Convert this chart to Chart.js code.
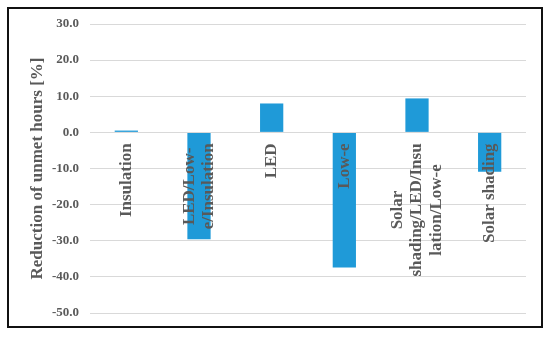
<!DOCTYPE html>
<html>
<head>
<meta charset="utf-8">
<script src="https://cdn.jsdelivr.net/npm/chart.js@4"></script>
<style>
  body { margin: 0; background: #fff; }
  #wrap { position: relative; width: 550px; height: 337px; }
  #frame { position: absolute; left: 7px; top: 7px; width: 532px; height: 317px; border: 2px solid #111; pointer-events: none; }
</style>
</head>
<body>
<div id="wrap">
  <canvas id="myChart" width="550" height="337"></canvas>
  <div id="frame"></div>
</div>
<script>
const categories = ['Insulation', 'LED/Low-e/Insulation', 'LED', 'Low-e', 'Solar shading/LED/Insulation/Low-e', 'Solar shading'];
// how each category name wraps in the picture
const labelLines = [
    ['Insulation'],
    ['LED/Low-', 'e/Insulation'],
    ['LED'],
    ['Low-e'],
    ['Solar', 'shading/LED/Insu', 'lation/Low-e'],
    ['Solar shading']
];
const reduction = [0.5, -29.6, 8.0, -37.4, 9.4, -10.9];
const yMin = -50;
const yMax = 30;
const yStep = 10;

const gray = '#595959';
const serif = "'Liberation Serif', 'Times New Roman', serif";

// category names drawn rotated just under the zero line, on top of the bars
const categoryLabels = {
    id: 'categoryLabels',
    afterDatasetsDraw(chart) {
        const c = chart.ctx;
        const xs = chart.scales.x;
        const ys = chart.scales.y;
        const size = 17;
        const lh = size * 1.15;
        c.save();
        c.font = 'bold ' + size + 'px ' + serif;
        c.fillStyle = gray;
        c.textAlign = 'center';
        c.textBaseline = 'middle';
        labelLines.forEach((lines, i) => {
            const x = xs.getPixelForValue(i);
            const y = ys.getPixelForValue(0) + 11;
            const w = Math.max(...lines.map(l => c.measureText(l).width));
            c.save();
            c.translate(x, y);
            c.rotate(-Math.PI / 2);
            lines.forEach((l, j) => {
                c.fillText(l, -w / 2, (j - (lines.length - 1) / 2) * lh);
            });
            c.restore();
        });
        c.restore();
    }
};

const ctx = document.getElementById('myChart');

new Chart(ctx, {
    type: 'bar',
    data: {
        labels: categories,
        datasets: [{
            data: reduction,
            backgroundColor: '#1f9ad8',
            borderWidth: 0,
            barPercentage: 0.32,
            categoryPercentage: 1
        }]
    },
    options: {
        responsive: false,
        animation: false,
        layout: { padding: { left: 0, top: 24, right: 24, bottom: 24 } },
        plugins: {
            legend: { display: false },
            tooltip: { enabled: false }
        },
        scales: {
            x: {
                display: false
            },
            y: {
                min: yMin,
                max: yMax,
                afterFit(scale) { scale.width = 90; },
                ticks: {
                    stepSize: yStep,
                    padding: 11,
                    color: gray,
                    font: { family: serif, size: 13, weight: 'bold' },
                    callback: v => v.toFixed(1)
                },
                grid: { color: '#d9d9d9', lineWidth: 1, drawTicks: false },
                border: { display: false },
                title: {
                    display: true,
                    text: 'Reduction of unmet hours [%]',
                    color: gray,
                    font: { family: serif, size: 17, weight: 'bold' },
                    padding: { top: 27, bottom: 0 }
                }
            }
        }
    },
    plugins: [categoryLabels]
});
</script>
</body>
</html>
